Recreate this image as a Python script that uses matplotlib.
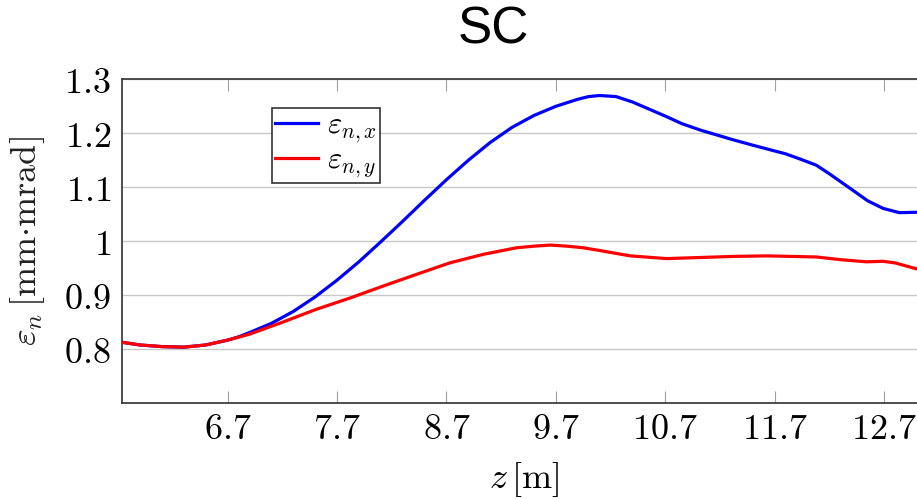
import numpy as np
import matplotlib
matplotlib.use("Agg")
import matplotlib.pyplot as plt

plt.rcParams['mathtext.fontset'] = 'cm'

# normalized emittance along the beamline, SC case
z_x = [5.735, 5.9, 6.1, 6.3, 6.5, 6.7, 6.8, 6.9, 7.1, 7.3, 7.5, 7.7, 7.9, 8.1,
       8.3, 8.5, 8.7, 8.9, 9.1, 9.3, 9.5, 9.7, 9.9, 10.0, 10.1, 10.25, 10.4,
       10.55, 10.71, 10.85, 11.02, 11.17, 11.32, 11.5, 11.63, 11.8, 11.95,
       12.08, 12.2, 12.39, 12.55, 12.69, 12.84, 13.05]
eps_x = [0.813, 0.808, 0.805, 0.804, 0.808, 0.817, 0.823, 0.831, 0.848, 0.870,
         0.897, 0.928, 0.962, 0.999, 1.037, 1.076, 1.114, 1.150, 1.183, 1.211,
         1.233, 1.250, 1.263, 1.268, 1.270, 1.268, 1.258, 1.245, 1.231, 1.218,
         1.206, 1.197, 1.188, 1.178, 1.171, 1.162, 1.151, 1.141, 1.125, 1.098,
         1.075, 1.061, 1.053, 1.054]

z_y = [5.735, 5.9, 6.1, 6.3, 6.5, 6.7, 6.9, 7.2, 7.51, 7.82, 8.12, 8.43, 8.73,
       9.04, 9.34, 9.5, 9.65, 9.8, 9.95, 10.1, 10.38, 10.71, 11.02, 11.32, 11.63,
       12.08, 12.3, 12.54, 12.69, 12.8, 13.05]
eps_y = [0.813, 0.808, 0.805, 0.804, 0.808, 0.817, 0.828, 0.850, 0.874, 0.895,
         0.917, 0.939, 0.960, 0.976, 0.988, 0.991, 0.993, 0.991, 0.988, 0.983,
         0.973, 0.968, 0.970, 0.972, 0.973, 0.971, 0.966, 0.962, 0.963, 0.960,
         0.946]

x_ticks = [6.7, 7.7, 8.7, 9.7, 10.7, 11.7, 12.7]
y_ticks = [0.8, 0.9, 1.0, 1.1, 1.2, 1.3]
y_labels = ['0.8', '0.9', '1', '1.1', '1.2', '1.3']

fig = plt.figure(figsize=(9.17, 4.99), dpi=100)
ax = fig.add_axes([122 / 917, 95.7 / 499, 803 / 917, 324 / 499])

ax.plot(z_x, eps_x, color='#0000ff', lw=2.3, label=r'$\varepsilon_{n,x}$', zorder=3)
ax.plot(z_y, eps_y, color='#ff0000', lw=2.3, label=r'$\varepsilon_{n,y}$', zorder=3)

ax.set_xlim(5.735, 13.074)
ax.set_ylim(0.7, 1.3)

ax.set_xticks(x_ticks)
ax.set_xticklabels([f'${t}$' for t in x_ticks])
ax.set_yticks(y_ticks)
ax.set_yticklabels([f'${t}$' for t in y_labels])

ax.tick_params(axis='x', direction='in', top=True, bottom=True, length=8.5,
               width=0.8, color='#a0a0a0', labelsize=26, pad=6)
ax.tick_params(axis='y', length=0, labelsize=26, pad=8)
ax.grid(axis='y', color='#c8c8c8', lw=1.0, zorder=0)

for side in ['left', 'top', 'bottom']:
    ax.spines[side].set_color('#404040')
    ax.spines[side].set_linewidth(1.3)
ax.spines['right'].set_visible(False)

ax.set_xlabel(r'$z\,[\mathrm{m}]$', fontsize=26)
ax.xaxis.set_label_coords(0.5, -0.175)
ax.set_ylabel(r'$\varepsilon_n\,[\mathrm{mm{\cdot}mrad}]$', fontsize=26, color='#222222')
ax.yaxis.set_label_coords(-0.094, 0.5)

leg = ax.legend(loc='upper left', bbox_to_anchor=(0.1868, 0.912), borderaxespad=0,
                fontsize=22, fancybox=False, framealpha=1, edgecolor='#333333',
                handlelength=1.4, handletextpad=0.3, labelspacing=0.0,
                borderpad=0.1)
leg.get_frame().set_linewidth(1.2)

fig.text(493 / 917, 1 - 30 / 499, 'SC', ha='center', va='center',
         fontsize=37, family='Liberation Sans')

fig.savefig('out.png', dpi=100)
